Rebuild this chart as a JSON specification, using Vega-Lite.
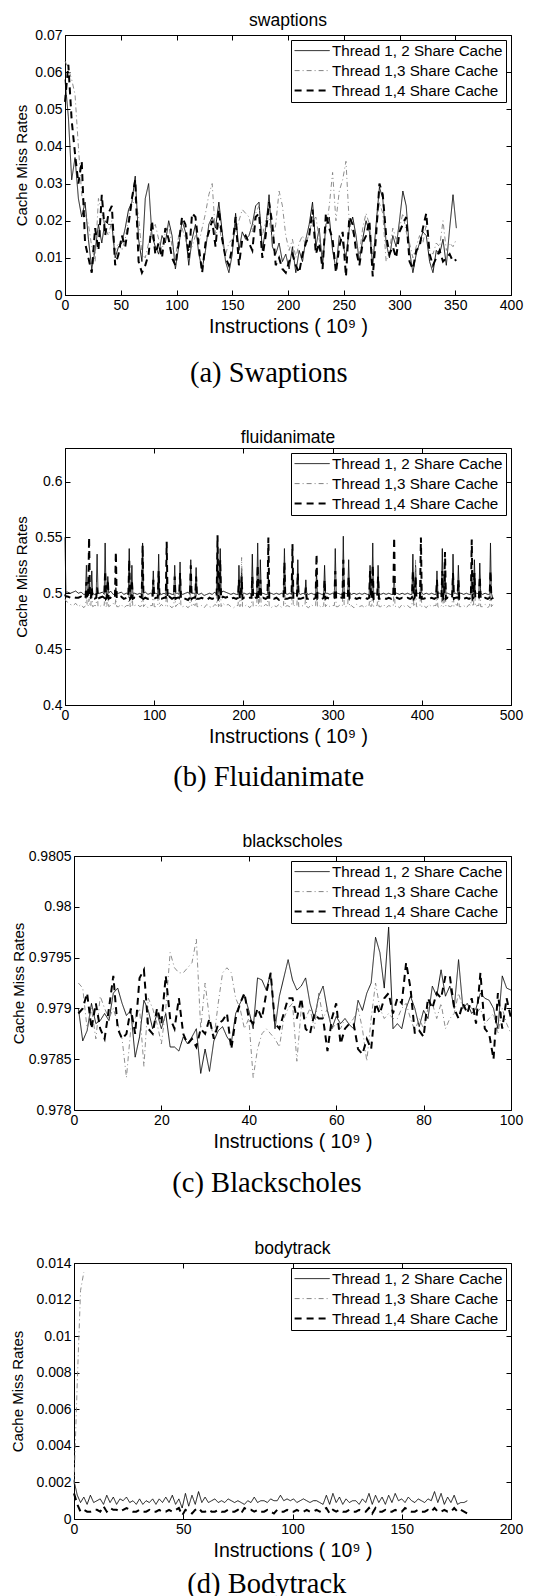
{
"$schema":"https://vega.github.io/schema/vega-lite/v6.json",
"background":"white",
"padding":{"left":10,"top":11,"right":0,"bottom":2},
"spacing":41,
"columns":1,
"resolve":{"scale":{"color":"independent","strokeDash":"independent"}},
"config":{
 "font":"Liberation Sans",
 "view":{"stroke":"black","strokeWidth":1},
 "axis":{"grid":false,"domainColor":"black","tickColor":"black","tickSize":-5,"labelPadding":8,"labelFontSize":14,"labelColor":"black","labelFlush":false,"labelOverlap":false,"titleFontWeight":"normal","titleColor":"black","titleFont":"Liberation Sans","labelFont":"Liberation Sans"},
 "axisX":{"titleFontSize":19.5,"titlePadding":5.5},
 "axisY":{"titleFontSize":15,"titlePadding":5},
 "title":{"fontSize":17.5,"fontWeight":"normal","color":"black","offset":-1,"font":"Liberation Sans","frame":"group","anchor":"middle"},
 "legend":{"title":null,"orient":"top-right","offset":5,"padding":3,"strokeColor":"black","fillColor":"white","cornerRadius":0,"labelFont":"Liberation Sans","labelFontSize":15.2,"labelColor":"black","labelLimit":0,"rowPadding":4}
},
"datasets":{
"sw":[
{"x":0,"a":0.058,"b":0.063,"c":0.052},{"x":3,"a":0.048,"b":0.061,"c":0.062},{"x":6,"a":0.031,"b":0.058,"c":0.047},{"x":9,"a":0.037,"b":0.054,"c":0.038},{"x":12,"a":0.026,"b":0.040,"c":0.030},{"x":15,"a":0.021,"b":0.027,"c":0.036},{"x":18,"a":0.025,"b":0.022,"c":0.014},{"x":21,"a":0.015,"b":0.019,"c":0.010},{"x":24,"a":0.007,"b":0.013,"c":0.006},{"x":27,"a":0.012,"b":0.009,"c":0.018},
{"x":30,"a":0.019,"b":0.026,"c":0.012},{"x":33,"a":0.014,"b":0.022,"c":0.027},{"x":36,"a":0.020,"b":0.018,"c":0.016},{"x":39,"a":0.019,"b":0.016,"c":0.022},{"x":42,"a":0.019,"b":0.020,"c":0.024},{"x":45,"a":0.010,"b":0.012,"c":0.008},{"x":48,"a":0.013,"b":0.014,"c":0.011},{"x":51,"a":0.014,"b":0.012,"c":0.016},{"x":54,"a":0.018,"b":0.015,"c":0.013},{"x":57,"a":0.023,"b":0.021,"c":0.019},
{"x":60,"a":0.025,"b":0.024,"c":0.026},{"x":63,"a":0.032,"b":0.026,"c":0.031},{"x":66,"a":0.015,"b":0.021,"c":0.009},{"x":69,"a":0.009,"b":0.011,"c":0.006},{"x":72,"a":0.026,"b":0.010,"c":0.008},{"x":75,"a":0.030,"b":0.014,"c":0.011},{"x":78,"a":0.016,"b":0.018,"c":0.020},{"x":81,"a":0.013,"b":0.019,"c":0.011},{"x":84,"a":0.011,"b":0.015,"c":0.014},{"x":87,"a":0.016,"b":0.012,"c":0.010},
{"x":90,"a":0.014,"b":0.017,"c":0.018},{"x":93,"a":0.020,"b":0.019,"c":0.015},{"x":96,"a":0.016,"b":0.013,"c":0.010},{"x":99,"a":0.007,"b":0.010,"c":0.008},{"x":102,"a":0.013,"b":0.016,"c":0.014},{"x":105,"a":0.020,"b":0.018,"c":0.021},{"x":108,"a":0.017,"b":0.015,"c":0.019},{"x":111,"a":0.008,"b":0.012,"c":0.010},{"x":114,"a":0.015,"b":0.013,"c":0.022},{"x":117,"a":0.019,"b":0.016,"c":0.021},
{"x":120,"a":0.011,"b":0.014,"c":0.013},{"x":123,"a":0.007,"b":0.018,"c":0.006},{"x":126,"a":0.012,"b":0.022,"c":0.014},{"x":129,"a":0.019,"b":0.027,"c":0.017},{"x":132,"a":0.021,"b":0.030,"c":0.020},{"x":135,"a":0.018,"b":0.016,"c":0.013},{"x":138,"a":0.025,"b":0.019,"c":0.023},{"x":141,"a":0.017,"b":0.014,"c":0.015},{"x":144,"a":0.009,"b":0.011,"c":0.010},{"x":147,"a":0.006,"b":0.014,"c":0.008},
{"x":150,"a":0.011,"b":0.015,"c":0.013},{"x":153,"a":0.022,"b":0.017,"c":0.021},{"x":156,"a":0.012,"b":0.020,"c":0.008},{"x":159,"a":0.017,"b":0.023,"c":0.015},{"x":162,"a":0.015,"b":0.022,"c":0.016},{"x":165,"a":0.016,"b":0.021,"c":0.014},{"x":168,"a":0.019,"b":0.017,"c":0.012},{"x":171,"a":0.024,"b":0.022,"c":0.021},{"x":174,"a":0.025,"b":0.024,"c":0.022},{"x":177,"a":0.012,"b":0.016,"c":0.010},
{"x":180,"a":0.018,"b":0.020,"c":0.016},{"x":183,"a":0.027,"b":0.021,"c":0.025},{"x":186,"a":0.013,"b":0.014,"c":0.019},{"x":189,"a":0.011,"b":0.019,"c":0.008},{"x":192,"a":0.014,"b":0.028,"c":0.010},{"x":195,"a":0.009,"b":0.024,"c":0.007},{"x":198,"a":0.011,"b":0.016,"c":0.006},{"x":201,"a":0.007,"b":0.012,"c":0.009},{"x":204,"a":0.013,"b":0.015,"c":0.011},{"x":207,"a":0.006,"b":0.010,"c":0.008},
{"x":210,"a":0.012,"b":0.014,"c":0.006},{"x":213,"a":0.009,"b":0.016,"c":0.011},{"x":216,"a":0.015,"b":0.013,"c":0.014},{"x":219,"a":0.019,"b":0.017,"c":0.016},{"x":222,"a":0.025,"b":0.020,"c":0.023},{"x":225,"a":0.013,"b":0.021,"c":0.011},{"x":228,"a":0.018,"b":0.015,"c":0.014},{"x":231,"a":0.008,"b":0.011,"c":0.007},{"x":234,"a":0.019,"b":0.017,"c":0.022},{"x":237,"a":0.021,"b":0.024,"c":0.018},
{"x":240,"a":0.012,"b":0.033,"c":0.015},{"x":243,"a":0.007,"b":0.020,"c":0.006},{"x":246,"a":0.016,"b":0.028,"c":0.013},{"x":249,"a":0.014,"b":0.031,"c":0.017},{"x":252,"a":0.010,"b":0.036,"c":0.005},{"x":255,"a":0.018,"b":0.019,"c":0.021},{"x":258,"a":0.021,"b":0.017,"c":0.019},{"x":261,"a":0.016,"b":0.014,"c":0.012},{"x":264,"a":0.009,"b":0.011,"c":0.008},{"x":267,"a":0.015,"b":0.018,"c":0.014},
{"x":270,"a":0.020,"b":0.022,"c":0.016},{"x":273,"a":0.017,"b":0.019,"c":0.020},{"x":276,"a":0.008,"b":0.011,"c":0.005},{"x":279,"a":0.019,"b":0.017,"c":0.016},{"x":282,"a":0.029,"b":0.025,"c":0.030},{"x":285,"a":0.026,"b":0.022,"c":0.027},{"x":288,"a":0.014,"b":0.009,"c":0.016},{"x":291,"a":0.010,"b":0.012,"c":0.011},{"x":294,"a":0.016,"b":0.018,"c":0.013},{"x":297,"a":0.013,"b":0.015,"c":0.010},
{"x":300,"a":0.020,"b":0.018,"c":0.017},{"x":303,"a":0.028,"b":0.022,"c":0.019},{"x":306,"a":0.024,"b":0.017,"c":0.021},{"x":309,"a":0.012,"b":0.014,"c":0.009},{"x":312,"a":0.006,"b":0.010,"c":0.007},{"x":315,"a":0.011,"b":0.013,"c":0.012},{"x":318,"a":0.014,"b":0.016,"c":0.013},{"x":321,"a":0.017,"b":0.014,"c":0.018},{"x":324,"a":0.016,"b":0.019,"c":0.022},{"x":327,"a":0.009,"b":0.012,"c":0.011},
{"x":330,"a":0.006,"b":0.011,"c":0.008},{"x":333,"a":0.012,"b":0.014,"c":0.010},{"x":336,"a":0.011,"b":0.013,"c":0.012},{"x":339,"a":0.015,"b":0.020,"c":0.009},{"x":342,"a":0.008,"b":0.012,"c":0.010},{"x":345,"a":0.018,"b":0.014,"c":0.011},{"x":348,"a":0.027,"b":0.013,"c":0.009},{"x":351,"a":0.018,"b":0.015,"c":0.0095}
],
"fl":[
{"x":0,"a":0.550,"b":0.495,"c":0.499},{"x":3,"a":0.501,"b":0.492,"c":0.497},{"x":6,"a":0.500,"b":0.490,"c":0.496},{"x":9,"a":0.501,"b":0.489,"c":0.497},{"x":12,"a":0.502,"b":0.491,"c":0.496},{"x":15,"a":0.500,"b":0.488,"c":0.496},{"x":18,"a":0.501,"b":0.490,"c":0.497},{"x":21,"a":0.499,"b":0.487,"c":0.495},{"x":24,"a":0.525,"b":0.500,"c":0.510},{"x":27,"a":0.512,"b":0.495,"c":0.550},
{"x":30,"a":0.520,"b":0.505,"c":0.505},{"x":33,"a":0.499,"b":0.489,"c":0.495},{"x":36,"a":0.535,"b":0.510,"c":0.505},{"x":39,"a":0.500,"b":0.488,"c":0.496},{"x":42,"a":0.501,"b":0.490,"c":0.497},{"x":45,"a":0.545,"b":0.515,"c":0.520},{"x":48,"a":0.515,"b":0.505,"c":0.512},{"x":51,"a":0.502,"b":0.489,"c":0.496},{"x":54,"a":0.499,"b":0.491,"c":0.495},{"x":57,"a":0.505,"b":0.495,"c":0.537},
{"x":60,"a":0.500,"b":0.488,"c":0.496},{"x":63,"a":0.501,"b":0.490,"c":0.497},{"x":66,"a":0.499,"b":0.487,"c":0.495},{"x":69,"a":0.500,"b":0.489,"c":0.496},{"x":72,"a":0.540,"b":0.515,"c":0.530},{"x":75,"a":0.525,"b":0.505,"c":0.512},{"x":78,"a":0.500,"b":0.489,"c":0.496},{"x":81,"a":0.499,"b":0.490,"c":0.495},{"x":84,"a":0.500,"b":0.488,"c":0.497},{"x":87,"a":0.545,"b":0.525,"c":0.543},
{"x":90,"a":0.501,"b":0.490,"c":0.496},{"x":93,"a":0.499,"b":0.487,"c":0.495},{"x":96,"a":0.500,"b":0.489,"c":0.496},{"x":99,"a":0.520,"b":0.505,"c":0.512},{"x":102,"a":0.500,"b":0.488,"c":0.496},{"x":105,"a":0.535,"b":0.512,"c":0.520},{"x":108,"a":0.499,"b":0.490,"c":0.495},{"x":111,"a":0.500,"b":0.488,"c":0.496},{"x":114,"a":0.515,"b":0.505,"c":0.546},{"x":117,"a":0.500,"b":0.489,"c":0.497},
{"x":120,"a":0.499,"b":0.487,"c":0.495},{"x":123,"a":0.525,"b":0.508,"c":0.515},{"x":126,"a":0.500,"b":0.490,"c":0.496},{"x":129,"a":0.528,"b":0.510,"c":0.518},{"x":132,"a":0.499,"b":0.488,"c":0.496},{"x":135,"a":0.500,"b":0.489,"c":0.495},{"x":138,"a":0.501,"b":0.487,"c":0.494},{"x":141,"a":0.530,"b":0.512,"c":0.525},{"x":144,"a":0.500,"b":0.490,"c":0.496},{"x":147,"a":0.523,"b":0.505,"c":0.515},
{"x":150,"a":0.499,"b":0.488,"c":0.495},{"x":153,"a":0.500,"b":0.489,"c":0.496},{"x":156,"a":0.498,"b":0.487,"c":0.495},{"x":159,"a":0.499,"b":0.490,"c":0.494},{"x":162,"a":0.500,"b":0.488,"c":0.496},{"x":165,"a":0.499,"b":0.487,"c":0.495},{"x":168,"a":0.501,"b":0.490,"c":0.496},{"x":171,"a":0.545,"b":0.525,"c":0.552},{"x":174,"a":0.540,"b":0.515,"c":0.530},{"x":177,"a":0.502,"b":0.491,"c":0.497},
{"x":180,"a":0.501,"b":0.489,"c":0.496},{"x":183,"a":0.500,"b":0.490,"c":0.497},{"x":186,"a":0.499,"b":0.488,"c":0.495},{"x":189,"a":0.500,"b":0.487,"c":0.496},{"x":192,"a":0.499,"b":0.489,"c":0.495},{"x":195,"a":0.525,"b":0.505,"c":0.512},{"x":198,"a":0.522,"b":0.532,"c":0.515},{"x":201,"a":0.500,"b":0.488,"c":0.496},{"x":204,"a":0.499,"b":0.490,"c":0.495},{"x":207,"a":0.500,"b":0.487,"c":0.496},
{"x":210,"a":0.535,"b":0.510,"c":0.515},{"x":213,"a":0.500,"b":0.489,"c":0.496},{"x":216,"a":0.545,"b":0.520,"c":0.525},{"x":219,"a":0.530,"b":0.510,"c":0.512},{"x":222,"a":0.500,"b":0.488,"c":0.496},{"x":225,"a":0.499,"b":0.490,"c":0.495},{"x":228,"a":0.515,"b":0.505,"c":0.550},{"x":231,"a":0.500,"b":0.487,"c":0.496},{"x":234,"a":0.499,"b":0.489,"c":0.495},{"x":237,"a":0.500,"b":0.488,"c":0.496},
{"x":240,"a":0.499,"b":0.490,"c":0.494},{"x":243,"a":0.500,"b":0.487,"c":0.495},{"x":246,"a":0.540,"b":0.515,"c":0.528},{"x":249,"a":0.499,"b":0.489,"c":0.495},{"x":252,"a":0.500,"b":0.488,"c":0.496},{"x":255,"a":0.520,"b":0.510,"c":0.544},{"x":258,"a":0.500,"b":0.490,"c":0.496},{"x":261,"a":0.530,"b":0.512,"c":0.518},{"x":264,"a":0.499,"b":0.488,"c":0.495},{"x":267,"a":0.500,"b":0.489,"c":0.496},
{"x":270,"a":0.512,"b":0.500,"c":0.505},{"x":273,"a":0.499,"b":0.487,"c":0.495},{"x":276,"a":0.500,"b":0.490,"c":0.496},{"x":279,"a":0.499,"b":0.488,"c":0.495},{"x":282,"a":0.518,"b":0.512,"c":0.535},{"x":285,"a":0.500,"b":0.489,"c":0.496},{"x":288,"a":0.499,"b":0.487,"c":0.495},{"x":291,"a":0.525,"b":0.505,"c":0.512},{"x":294,"a":0.500,"b":0.490,"c":0.496},{"x":297,"a":0.499,"b":0.488,"c":0.495},
{"x":300,"a":0.500,"b":0.489,"c":0.496},{"x":303,"a":0.540,"b":0.515,"c":0.520},{"x":306,"a":0.500,"b":0.488,"c":0.495},{"x":309,"a":0.499,"b":0.490,"c":0.496},{"x":312,"a":0.551,"b":0.520,"c":0.530},{"x":315,"a":0.500,"b":0.488,"c":0.496},{"x":318,"a":0.530,"b":0.510,"c":0.515},{"x":321,"a":0.499,"b":0.489,"c":0.495},{"x":324,"a":0.500,"b":0.487,"c":0.496},{"x":327,"a":0.499,"b":0.490,"c":0.495},
{"x":330,"a":0.500,"b":0.488,"c":0.496},{"x":333,"a":0.499,"b":0.489,"c":0.495},{"x":336,"a":0.500,"b":0.487,"c":0.496},{"x":339,"a":0.499,"b":0.490,"c":0.495},{"x":342,"a":0.525,"b":0.505,"c":0.520},{"x":345,"a":0.545,"b":0.518,"c":0.525},{"x":348,"a":0.500,"b":0.489,"c":0.496},{"x":351,"a":0.525,"b":0.505,"c":0.515},{"x":354,"a":0.499,"b":0.488,"c":0.495},{"x":357,"a":0.500,"b":0.490,"c":0.496},
{"x":360,"a":0.499,"b":0.487,"c":0.495},{"x":363,"a":0.500,"b":0.489,"c":0.496},{"x":366,"a":0.499,"b":0.488,"c":0.495},{"x":369,"a":0.515,"b":0.510,"c":0.550},{"x":372,"a":0.500,"b":0.489,"c":0.496},{"x":375,"a":0.499,"b":0.487,"c":0.495},{"x":378,"a":0.500,"b":0.490,"c":0.496},{"x":381,"a":0.499,"b":0.488,"c":0.495},{"x":384,"a":0.500,"b":0.489,"c":0.496},{"x":387,"a":0.499,"b":0.487,"c":0.495},
{"x":390,"a":0.535,"b":0.515,"c":0.520},{"x":393,"a":0.525,"b":0.530,"c":0.515},{"x":396,"a":0.500,"b":0.488,"c":0.496},{"x":399,"a":0.512,"b":0.505,"c":0.550},{"x":402,"a":0.499,"b":0.489,"c":0.495},{"x":405,"a":0.500,"b":0.487,"c":0.496},{"x":408,"a":0.499,"b":0.490,"c":0.495},{"x":411,"a":0.500,"b":0.488,"c":0.496},{"x":414,"a":0.499,"b":0.489,"c":0.495},{"x":417,"a":0.520,"b":0.505,"c":0.512},
{"x":420,"a":0.500,"b":0.487,"c":0.496},{"x":423,"a":0.540,"b":0.515,"c":0.520},{"x":426,"a":0.520,"b":0.510,"c":0.537},{"x":429,"a":0.500,"b":0.489,"c":0.496},{"x":432,"a":0.499,"b":0.488,"c":0.495},{"x":435,"a":0.535,"b":0.512,"c":0.518},{"x":438,"a":0.500,"b":0.490,"c":0.496},{"x":441,"a":0.525,"b":0.505,"c":0.512},{"x":444,"a":0.500,"b":0.488,"c":0.496},{"x":447,"a":0.499,"b":0.489,"c":0.495},
{"x":450,"a":0.500,"b":0.487,"c":0.496},{"x":453,"a":0.499,"b":0.490,"c":0.495},{"x":456,"a":0.520,"b":0.512,"c":0.548},{"x":459,"a":0.530,"b":0.515,"c":0.518},{"x":462,"a":0.500,"b":0.489,"c":0.496},{"x":465,"a":0.527,"b":0.510,"c":0.515},{"x":468,"a":0.499,"b":0.488,"c":0.495},{"x":471,"a":0.500,"b":0.490,"c":0.496},{"x":474,"a":0.499,"b":0.487,"c":0.495},{"x":477,"a":0.545,"b":0.515,"c":0.520},
{"x":480,"a":0.495,"b":0.490,"c":0.496},
{"x":1,"a":0.501,"b":0.493,"c":0.497},
{"x":23,"a":0.499,"b":0.489,"c":0.496},{"x":25,"a":0.500,"b":0.488,"c":0.495},{"x":26,"a":0.499,"b":0.489,"c":0.496},{"x":28,"a":0.500,"b":0.488,"c":0.495},{"x":29,"a":0.499,"b":0.489,"c":0.496},{"x":31,"a":0.500,"b":0.488,"c":0.495},{"x":35,"a":0.499,"b":0.489,"c":0.496},{"x":37,"a":0.500,"b":0.488,"c":0.495},{"x":44,"a":0.499,"b":0.489,"c":0.496},{"x":46,"a":0.500,"b":0.488,"c":0.495},
{"x":47,"a":0.499,"b":0.489,"c":0.496},{"x":49,"a":0.500,"b":0.488,"c":0.495},{"x":56,"a":0.499,"b":0.489,"c":0.496},{"x":58,"a":0.500,"b":0.488,"c":0.495},{"x":71,"a":0.499,"b":0.489,"c":0.496},{"x":73,"a":0.500,"b":0.488,"c":0.495},{"x":74,"a":0.499,"b":0.489,"c":0.496},{"x":76,"a":0.500,"b":0.488,"c":0.495},{"x":86,"a":0.499,"b":0.489,"c":0.496},{"x":88,"a":0.500,"b":0.488,"c":0.495},
{"x":98,"a":0.499,"b":0.489,"c":0.496},{"x":100,"a":0.500,"b":0.488,"c":0.495},{"x":104,"a":0.499,"b":0.489,"c":0.496},{"x":106,"a":0.500,"b":0.488,"c":0.495},{"x":113,"a":0.499,"b":0.489,"c":0.496},{"x":115,"a":0.500,"b":0.488,"c":0.495},{"x":122,"a":0.499,"b":0.489,"c":0.496},{"x":124,"a":0.500,"b":0.488,"c":0.495},{"x":128,"a":0.499,"b":0.489,"c":0.496},{"x":130,"a":0.500,"b":0.488,"c":0.495},
{"x":140,"a":0.499,"b":0.489,"c":0.496},{"x":142,"a":0.500,"b":0.488,"c":0.495},{"x":146,"a":0.499,"b":0.489,"c":0.496},{"x":148,"a":0.500,"b":0.488,"c":0.495},{"x":170,"a":0.499,"b":0.489,"c":0.496},{"x":172,"a":0.500,"b":0.488,"c":0.495},{"x":173,"a":0.499,"b":0.489,"c":0.496},{"x":175,"a":0.500,"b":0.488,"c":0.495},{"x":194,"a":0.499,"b":0.489,"c":0.496},{"x":196,"a":0.500,"b":0.488,"c":0.495},
{"x":197,"a":0.499,"b":0.489,"c":0.496},{"x":199,"a":0.500,"b":0.488,"c":0.495},{"x":209,"a":0.499,"b":0.489,"c":0.496},{"x":211,"a":0.500,"b":0.488,"c":0.495},{"x":215,"a":0.499,"b":0.489,"c":0.496},{"x":217,"a":0.500,"b":0.488,"c":0.495},{"x":218,"a":0.499,"b":0.489,"c":0.496},{"x":220,"a":0.500,"b":0.488,"c":0.495},{"x":227,"a":0.499,"b":0.489,"c":0.496},{"x":229,"a":0.500,"b":0.488,"c":0.495},
{"x":245,"a":0.499,"b":0.489,"c":0.496},{"x":247,"a":0.500,"b":0.488,"c":0.495},{"x":254,"a":0.499,"b":0.489,"c":0.496},{"x":256,"a":0.500,"b":0.488,"c":0.495},{"x":260,"a":0.499,"b":0.489,"c":0.496},{"x":262,"a":0.500,"b":0.488,"c":0.495},{"x":269,"a":0.499,"b":0.489,"c":0.496},{"x":271,"a":0.500,"b":0.488,"c":0.495},{"x":281,"a":0.499,"b":0.489,"c":0.496},{"x":283,"a":0.500,"b":0.488,"c":0.495},
{"x":290,"a":0.499,"b":0.489,"c":0.496},{"x":292,"a":0.500,"b":0.488,"c":0.495},{"x":302,"a":0.499,"b":0.489,"c":0.496},{"x":304,"a":0.500,"b":0.488,"c":0.495},{"x":311,"a":0.499,"b":0.489,"c":0.496},{"x":313,"a":0.500,"b":0.488,"c":0.495},{"x":317,"a":0.499,"b":0.489,"c":0.496},{"x":319,"a":0.500,"b":0.488,"c":0.495},{"x":341,"a":0.499,"b":0.489,"c":0.496},{"x":343,"a":0.500,"b":0.488,"c":0.495},
{"x":344,"a":0.499,"b":0.489,"c":0.496},{"x":346,"a":0.500,"b":0.488,"c":0.495},{"x":350,"a":0.499,"b":0.489,"c":0.496},{"x":352,"a":0.500,"b":0.488,"c":0.495},{"x":368,"a":0.499,"b":0.489,"c":0.496},{"x":370,"a":0.500,"b":0.488,"c":0.495},{"x":389,"a":0.499,"b":0.489,"c":0.496},{"x":391,"a":0.500,"b":0.488,"c":0.495},{"x":392,"a":0.499,"b":0.489,"c":0.496},{"x":394,"a":0.500,"b":0.488,"c":0.495},
{"x":398,"a":0.499,"b":0.489,"c":0.496},{"x":400,"a":0.500,"b":0.488,"c":0.495},{"x":416,"a":0.499,"b":0.489,"c":0.496},{"x":418,"a":0.500,"b":0.488,"c":0.495},{"x":422,"a":0.499,"b":0.489,"c":0.496},{"x":424,"a":0.500,"b":0.488,"c":0.495},{"x":425,"a":0.499,"b":0.489,"c":0.496},{"x":427,"a":0.500,"b":0.488,"c":0.495},{"x":434,"a":0.499,"b":0.489,"c":0.496},{"x":436,"a":0.500,"b":0.488,"c":0.495},
{"x":440,"a":0.499,"b":0.489,"c":0.496},{"x":442,"a":0.500,"b":0.488,"c":0.495},{"x":455,"a":0.499,"b":0.489,"c":0.496},{"x":457,"a":0.500,"b":0.488,"c":0.495},{"x":458,"a":0.499,"b":0.489,"c":0.496},{"x":460,"a":0.500,"b":0.488,"c":0.495},{"x":464,"a":0.499,"b":0.489,"c":0.496},{"x":466,"a":0.500,"b":0.488,"c":0.495},{"x":476,"a":0.499,"b":0.489,"c":0.496},{"x":478,"a":0.500,"b":0.488,"c":0.495}
],
"bs":[
{"x":1,"a":0.979,"b":0.97925,"c":0.97895},{"x":2,"a":0.97868,"b":0.9792,"c":0.979},{"x":3,"a":0.97878,"b":0.9788,"c":0.97915},{"x":4,"a":0.97905,"b":0.979,"c":0.9788},{"x":5,"a":0.97885,"b":0.9787,"c":0.97905},{"x":6,"a":0.97888,"b":0.97912,"c":0.9788},{"x":7,"a":0.97895,"b":0.979,"c":0.9787},{"x":8,"a":0.97888,"b":0.9789,"c":0.979},{"x":9,"a":0.97915,"b":0.979,"c":0.97932},{"x":10,"a":0.9792,"b":0.97885,"c":0.9788},
{"x":11,"a":0.97905,"b":0.9787,"c":0.9787},{"x":12,"a":0.97893,"b":0.97832,"c":0.97875},{"x":13,"a":0.97898,"b":0.9788,"c":0.979},{"x":14,"a":0.97852,"b":0.9789,"c":0.97875},{"x":15,"a":0.97872,"b":0.979,"c":0.9793},{"x":16,"a":0.97908,"b":0.97843,"c":0.97938},{"x":17,"a":0.97898,"b":0.9791,"c":0.9788},{"x":18,"a":0.9788,"b":0.979,"c":0.97875},{"x":19,"a":0.97895,"b":0.97885,"c":0.979},{"x":20,"a":0.9788,"b":0.97865,"c":0.97885},
{"x":21,"a":0.97895,"b":0.979,"c":0.97932},{"x":22,"a":0.97862,"b":0.97955,"c":0.9789},{"x":23,"a":0.97862,"b":0.9794,"c":0.9788},{"x":24,"a":0.97858,"b":0.97935,"c":0.9791},{"x":25,"a":0.97872,"b":0.97935,"c":0.97875},{"x":26,"a":0.97865,"b":0.9794,"c":0.97865},{"x":27,"a":0.97872,"b":0.97945,"c":0.9787},{"x":28,"a":0.9788,"b":0.97968,"c":0.97862},{"x":29,"a":0.97836,"b":0.9788,"c":0.9788},{"x":30,"a":0.9786,"b":0.97925,"c":0.97875},
{"x":31,"a":0.97838,"b":0.9789,"c":0.9789},{"x":32,"a":0.97868,"b":0.9787,"c":0.9787},{"x":33,"a":0.97878,"b":0.97905,"c":0.97885},{"x":34,"a":0.97882,"b":0.97935,"c":0.97888},{"x":35,"a":0.97872,"b":0.9794,"c":0.97895},{"x":36,"a":0.97866,"b":0.97935,"c":0.9786},{"x":37,"a":0.97895,"b":0.9791,"c":0.9789},{"x":38,"a":0.97905,"b":0.979,"c":0.97905},{"x":39,"a":0.97913,"b":0.9788,"c":0.97915},{"x":40,"a":0.97898,"b":0.9789,"c":0.9789},
{"x":41,"a":0.9788,"b":0.97832,"c":0.97885},{"x":42,"a":0.9793,"b":0.9786,"c":0.979},{"x":43,"a":0.97928,"b":0.97875,"c":0.9789},{"x":44,"a":0.97918,"b":0.9788,"c":0.97915},{"x":45,"a":0.97935,"b":0.97875,"c":0.97935},{"x":46,"a":0.9788,"b":0.9787,"c":0.97885},{"x":47,"a":0.97912,"b":0.97862,"c":0.9788},{"x":48,"a":0.9793,"b":0.9789,"c":0.97895},{"x":49,"a":0.97948,"b":0.979,"c":0.9791},{"x":50,"a":0.97928,"b":0.97905,"c":0.9791},
{"x":51,"a":0.97918,"b":0.97848,"c":0.9789},{"x":52,"a":0.97922,"b":0.979,"c":0.9791},{"x":53,"a":0.9793,"b":0.9789,"c":0.9788},{"x":54,"a":0.97905,"b":0.979,"c":0.97875},{"x":55,"a":0.9789,"b":0.9788,"c":0.97895},{"x":56,"a":0.97912,"b":0.97915,"c":0.9789},{"x":57,"a":0.97922,"b":0.9789,"c":0.9789},{"x":58,"a":0.97898,"b":0.979,"c":0.97858},{"x":59,"a":0.9788,"b":0.9788,"c":0.9789},{"x":60,"a":0.97892,"b":0.97885,"c":0.97905},
{"x":61,"a":0.97885,"b":0.9788,"c":0.97865},{"x":62,"a":0.9789,"b":0.9789,"c":0.9788},{"x":63,"a":0.97884,"b":0.97885,"c":0.97885},{"x":64,"a":0.9788,"b":0.9789,"c":0.97885},{"x":65,"a":0.97908,"b":0.979,"c":0.9786},{"x":66,"a":0.97898,"b":0.9788,"c":0.97855},{"x":67,"a":0.97915,"b":0.97848,"c":0.9787},{"x":68,"a":0.97925,"b":0.9789,"c":0.9786},{"x":69,"a":0.9797,"b":0.97925,"c":0.97905},{"x":70,"a":0.97955,"b":0.979,"c":0.97895},
{"x":71,"a":0.9792,"b":0.9789,"c":0.9791},{"x":72,"a":0.9798,"b":0.97895,"c":0.97915},{"x":73,"a":0.9788,"b":0.9789,"c":0.97895},{"x":74,"a":0.97885,"b":0.9789,"c":0.9791},{"x":75,"a":0.9788,"b":0.979,"c":0.97905},{"x":76,"a":0.979,"b":0.97905,"c":0.97945},{"x":77,"a":0.97912,"b":0.9789,"c":0.9792},{"x":78,"a":0.979,"b":0.97878,"c":0.97875},{"x":79,"a":0.97882,"b":0.9789,"c":0.97878},{"x":80,"a":0.97898,"b":0.9788,"c":0.97872},
{"x":81,"a":0.9789,"b":0.979,"c":0.9791},{"x":82,"a":0.97922,"b":0.97905,"c":0.979},{"x":83,"a":0.97912,"b":0.9789,"c":0.97915},{"x":84,"a":0.97938,"b":0.97905,"c":0.9791},{"x":85,"a":0.97912,"b":0.9788,"c":0.97932},{"x":86,"a":0.97922,"b":0.9789,"c":0.97932},{"x":87,"a":0.979,"b":0.97895,"c":0.979},{"x":88,"a":0.97948,"b":0.97915,"c":0.9789},{"x":89,"a":0.979,"b":0.979,"c":0.97905},{"x":90,"a":0.97905,"b":0.97905,"c":0.97895},
{"x":91,"a":0.97895,"b":0.979,"c":0.9791},{"x":92,"a":0.979,"b":0.97895,"c":0.97885},{"x":93,"a":0.97915,"b":0.979,"c":0.97935},{"x":94,"a":0.9791,"b":0.97885,"c":0.9788},{"x":95,"a":0.97908,"b":0.9789,"c":0.97875},{"x":96,"a":0.979,"b":0.97895,"c":0.9785},{"x":97,"a":0.9788,"b":0.97875,"c":0.97915},{"x":98,"a":0.97932,"b":0.979,"c":0.9788},{"x":99,"a":0.9792,"b":0.97885,"c":0.9791},{"x":100,"a":0.97918,"b":0.97875,"c":0.9789}
],
"bt":[
{"x":0,"a":0.0021,"b":0.0019,"c":0.0014},{"x":1.5,"a":0.0013,"b":0.0075,"c":0.0008},{"x":3,"a":0.0009,"b":0.0125,"c":0.0004},{"x":4.5,"a":0.0012,"b":0.0135,"c":0.0005},{"x":6,"a":0.0008,"c":0.0004},{"x":7.5,"a":0.0013,"c":0.0004},{"x":9,"a":0.0009,"c":0.0005},{"x":10.5,"a":0.0010,"c":0.0005},{"x":12,"a":0.0011,"c":0.0004},{"x":13.5,"a":0.0008,"c":0.0007},
{"x":15,"a":0.0013,"c":0.0004},{"x":16.5,"a":0.0009,"c":0.0006},{"x":18,"a":0.0012,"c":0.0005},{"x":19.5,"a":0.0008,"c":0.0005},{"x":21,"a":0.0011,"c":0.0004},{"x":22.5,"a":0.0010,"c":0.0005},{"x":24,"a":0.0012,"c":0.0006},{"x":25.5,"a":0.0009,"c":0.0005},{"x":27,"a":0.0010,"c":0.0004},{"x":28.5,"a":0.0008,"c":0.0004},
{"x":30,"a":0.0011,"c":0.0005},{"x":31.5,"a":0.0008,"c":0.0004},{"x":33,"a":0.0010,"c":0.0004},{"x":34.5,"a":0.0009,"c":0.0005},{"x":36,"a":0.0011,"c":0.0004},{"x":37.5,"a":0.0008,"c":0.0004},{"x":39,"a":0.0011,"c":0.0005},{"x":40.5,"a":0.0009,"c":0.0004},{"x":42,"a":0.0012,"c":0.0004},{"x":43.5,"a":0.0009,"c":0.0005},
{"x":45,"a":0.0013,"c":0.0004},{"x":46.5,"a":0.0008,"c":0.0005},{"x":48,"a":0.0011,"c":0.0006},{"x":49.5,"a":0.0006,"c":0.0002},{"x":51,"a":0.0014,"c":0.0005},{"x":52.5,"a":0.0007,"c":0.0004},{"x":54,"a":0.0013,"c":0.0003},{"x":55.5,"a":0.0008,"c":0.0005},{"x":57,"a":0.0015,"c":0.0006},{"x":58.5,"a":0.0009,"c":0.0004},
{"x":60,"a":0.0012,"c":0.0004},{"x":61.5,"a":0.0009,"c":0.0005},{"x":63,"a":0.0010,"c":0.0004},{"x":64.5,"a":0.0011,"c":0.0004},{"x":66,"a":0.0009,"c":0.0005},{"x":67.5,"a":0.0010,"c":0.0004},{"x":69,"a":0.0009,"c":0.0004},{"x":70.5,"a":0.0011,"c":0.0005},{"x":72,"a":0.0010,"c":0.0004},{"x":73.5,"a":0.0009,"c":0.0004},
{"x":75,"a":0.0010,"c":0.0005},{"x":76.5,"a":0.0009,"c":0.0003},{"x":78,"a":0.0008,"c":0.0006},{"x":79.5,"a":0.0010,"c":0.0005},{"x":81,"a":0.0009,"c":0.0005},{"x":82.5,"a":0.0012,"c":0.0004},{"x":84,"a":0.0009,"c":0.0005},{"x":85.5,"a":0.0010,"c":0.0004},{"x":87,"a":0.0010,"c":0.0004},{"x":88.5,"a":0.0009,"c":0.0005},
{"x":90,"a":0.0011,"c":0.0004},{"x":91.5,"a":0.0010,"c":0.0003},{"x":93,"a":0.0010,"c":0.0005},{"x":94.5,"a":0.0013,"c":0.0004},{"x":96,"a":0.0010,"c":0.0004},{"x":97.5,"a":0.0011,"c":0.0005},{"x":99,"a":0.0010,"c":0.0004},{"x":100.5,"a":0.0011,"c":0.0004},{"x":102,"a":0.0009,"c":0.0005},{"x":103.5,"a":0.0010,"c":0.0004},
{"x":105,"a":0.0011,"c":0.0004},{"x":106.5,"a":0.0010,"c":0.0005},{"x":108,"a":0.0009,"c":0.0004},{"x":109.5,"a":0.0010,"c":0.0004},{"x":111,"a":0.0010,"c":0.0005},{"x":112.5,"a":0.0009,"c":0.0004},{"x":114,"a":0.0008,"c":0.0005},{"x":115.5,"a":0.0013,"c":0.0006},{"x":117,"a":0.0008,"c":0.0003},{"x":118.5,"a":0.0014,"c":0.0005},
{"x":120,"a":0.0009,"c":0.0004},{"x":121.5,"a":0.0012,"c":0.0005},{"x":123,"a":0.0008,"c":0.0004},{"x":124.5,"a":0.0011,"c":0.0004},{"x":126,"a":0.0009,"c":0.0005},{"x":127.5,"a":0.0010,"c":0.0004},{"x":129,"a":0.0010,"c":0.0004},{"x":130.5,"a":0.0008,"c":0.0005},{"x":132,"a":0.0011,"c":0.0004},{"x":133.5,"a":0.0009,"c":0.0004},
{"x":135,"a":0.0014,"c":0.0006},{"x":136.5,"a":0.0008,"c":0.0003},{"x":138,"a":0.0013,"c":0.0006},{"x":139.5,"a":0.0009,"c":0.0004},{"x":141,"a":0.0012,"c":0.0004},{"x":142.5,"a":0.0008,"c":0.0005},{"x":144,"a":0.0013,"c":0.0004},{"x":145.5,"a":0.0009,"c":0.0004},{"x":147,"a":0.0014,"c":0.0005},{"x":148.5,"a":0.0010,"c":0.0004},
{"x":150,"a":0.0011,"c":0.0004},{"x":151.5,"a":0.0009,"c":0.0006},{"x":153,"a":0.0012,"c":0.0005},{"x":154.5,"a":0.0010,"c":0.0004},{"x":156,"a":0.0009,"c":0.0004},{"x":157.5,"a":0.0011,"c":0.0005},{"x":159,"a":0.0010,"c":0.0004},{"x":160.5,"a":0.0009,"c":0.0004},{"x":162,"a":0.0011,"c":0.0005},{"x":163.5,"a":0.0010,"c":0.0004},
{"x":165,"a":0.0015,"c":0.0006},{"x":166.5,"a":0.0009,"c":0.0004},{"x":168,"a":0.0014,"c":0.0004},{"x":169.5,"a":0.0008,"c":0.0005},{"x":171,"a":0.0012,"c":0.0004},{"x":172.5,"a":0.0009,"c":0.0004},{"x":174,"a":0.0013,"c":0.0006},{"x":175.5,"a":0.0008,"c":0.0004},{"x":177,"a":0.0009,"c":0.0005},{"x":178.5,"a":0.0009,"c":0.0004},
{"x":180,"a":0.0010,"c":0.0003}
]
},
"concat":[
{"title":{"text":"(a) Swaptions","orient":"bottom","font":"Liberation Serif","fontSize":28.5,"fontWeight":"normal","color":"black","offset":22,"anchor":"middle","frame":"bounds"},
 "resolve":{"scale":{"color":"independent","strokeDash":"independent"}},
 "vconcat":[{
  "title":{"text":"swaptions"},
  "width":446,"height":260,
  "layer":[
   {"data":{"name":"sw"},
    "transform":[{"fold":["a","b","c"],"as":["s","y"]},{"filter":"isValid(datum.y)"}],
    "mark":{"type":"line","strokeCap":"butt"},
    "encoding":{
     "x":{"field":"x","type":"quantitative","scale":{"domain":[0,400],"nice":false},"axis":{"values":[0,50,100,150,200,250,300,350,400],"format":"d","title":"Instructions ( 10⁹ )"}},
     "y":{"field":"y","type":"quantitative","scale":{"domain":[0,0.07],"nice":false,"zero":false},"axis":{"values":[0,0.01,0.02,0.03,0.04,0.05,0.06,0.07],"format":".2~f","title":"Cache Miss Rates"}},
     "color":{"field":"s","type":"nominal","scale":{"domain":["a","b","c"],"range":["#000000","#808080","#000000"]},"legend":{"symbolType":"M-3.5,0H3.5","symbolSize":100,"symbolOffset":10.5,"labelOffset":12.3,"labelExpr":"datum.value=='a'?'Thread 1, 2 Share Cache':datum.value=='b'?'Thread 1,3 Share Cache':'Thread 1,4 Share Cache'","encode":{"symbols":{"update":{"strokeWidth":{"signal":"datum.value=='c'?2:1"}}}}}},
     "strokeDash":{"field":"s","type":"nominal","scale":{"domain":["a","b","c"],"range":[[1,0],[5,3,1,3],[7,5]]}},
     "strokeWidth":{"condition":{"test":"datum.s=='c'","value":2},"value":0.9}
    }},
   {"data":{"values":[]},
    "mark":{"type":"point","opacity":0},
    "encoding":{
     "x":{"field":"x","type":"quantitative","axis":{"orient":"top","values":[0,50,100,150,200,250,300,350,400],"labels":false,"title":null,"domain":false,"minExtent":0,"maxExtent":0}},
     "y":{"field":"y","type":"quantitative","axis":{"orient":"right","values":[0,0.01,0.02,0.03,0.04,0.05,0.06,0.07],"labels":false,"title":null,"domain":false,"minExtent":0,"maxExtent":0}}
    }}
  ],
  "resolve":{"axis":{"x":"independent","y":"independent"}}
 }]
},
{"title":{"text":"(b) Fluidanimate","orient":"bottom","font":"Liberation Serif","fontSize":28.5,"fontWeight":"normal","color":"black","offset":16,"anchor":"middle","frame":"bounds"},
 "resolve":{"scale":{"color":"independent","strokeDash":"independent"}},
 "vconcat":[{
  "title":{"text":"fluidanimate","offset":1},
  "width":446,"height":257,
  "layer":[
   {"data":{"name":"fl"},
    "transform":[{"fold":["a","b","c"],"as":["s","y"]},{"filter":"isValid(datum.y)"}],
    "mark":{"type":"line","strokeCap":"butt"},
    "encoding":{
     "x":{"field":"x","type":"quantitative","scale":{"domain":[0,500],"nice":false},"axis":{"values":[0,100,200,300,400,500],"format":"d","title":"Instructions ( 10⁹ )"}},
     "y":{"field":"y","type":"quantitative","scale":{"domain":[0.4,0.63],"nice":false,"zero":false},"axis":{"values":[0.4,0.45,0.5,0.55,0.6],"format":".2~f","title":"Cache Miss Rates"}},
     "color":{"field":"s","type":"nominal","scale":{"domain":["a","b","c"],"range":["#000000","#808080","#000000"]},"legend":{"symbolType":"M-3.5,0H3.5","symbolSize":100,"symbolOffset":10.5,"labelOffset":12.3,"labelExpr":"datum.value=='a'?'Thread 1, 2 Share Cache':datum.value=='b'?'Thread 1,3 Share Cache':'Thread 1,4 Share Cache'","encode":{"symbols":{"update":{"strokeWidth":{"signal":"datum.value=='c'?2:1"}}}}}},
     "strokeDash":{"field":"s","type":"nominal","scale":{"domain":["a","b","c"],"range":[[1,0],[5,3,1,3],[7,5]]}},
     "strokeWidth":{"condition":{"test":"datum.s=='c'","value":2},"value":0.9}
    }},
   {"data":{"values":[]},
    "mark":{"type":"point","opacity":0},
    "encoding":{
     "x":{"field":"x","type":"quantitative","axis":{"orient":"top","values":[0,100,200,300,400,500],"labels":false,"title":null,"domain":false,"minExtent":0,"maxExtent":0}},
     "y":{"field":"y","type":"quantitative","axis":{"orient":"right","values":[0.4,0.45,0.5,0.55,0.6],"labels":false,"title":null,"domain":false,"minExtent":0,"maxExtent":0}}
    }}
  ],
  "resolve":{"axis":{"x":"independent","y":"independent"}}
 }]
},
{"title":{"text":"(c) Blackscholes","orient":"bottom","font":"Liberation Serif","fontSize":28.5,"fontWeight":"normal","color":"black","offset":18,"anchor":"middle","frame":"bounds"},
 "resolve":{"scale":{"color":"independent","strokeDash":"independent"}},
 "vconcat":[{
  "title":{"text":"blackscholes","dx":4.5},
  "width":446,"height":254,
  "view":{"stroke":null},
  "layer":[
   {"data":{"name":"bs"},
    "transform":[{"fold":["a","b","c"],"as":["s","y"]},{"filter":"isValid(datum.y)"}],
    "mark":{"type":"line","strokeCap":"butt"},
    "encoding":{
     "x":{"field":"x","type":"quantitative","scale":{"domain":[0,100],"nice":false,"range":[9,446]},"axis":{"values":[0,20,40,60,80,100],"format":"d","title":"Instructions ( 10⁹ )"}},
     "y":{"field":"y","type":"quantitative","scale":{"domain":[0.978,0.9805],"nice":false,"zero":false},"axis":{"values":[0.978,0.9785,0.979,0.9795,0.98,0.9805],"format":".4~f","title":"Cache Miss Rates","titlePadding":2,"offset":-9}},
     "color":{"field":"s","type":"nominal","scale":{"domain":["a","b","c"],"range":["#000000","#808080","#000000"]},"legend":{"symbolType":"M-3.5,0H3.5","symbolSize":100,"symbolOffset":10.5,"labelOffset":12.3,"labelExpr":"datum.value=='a'?'Thread 1, 2 Share Cache':datum.value=='b'?'Thread 1,3 Share Cache':'Thread 1,4 Share Cache'","encode":{"symbols":{"update":{"strokeWidth":{"signal":"datum.value=='c'?2:1"}}}}}},
     "strokeDash":{"field":"s","type":"nominal","scale":{"domain":["a","b","c"],"range":[[1,0],[5,3,1,3],[7,5]]}},
     "strokeWidth":{"condition":{"test":"datum.s=='c'","value":2},"value":0.9}
    }},
   {"data":{"values":[]},
    "mark":{"type":"point","opacity":0},
    "encoding":{
     "x":{"field":"x","type":"quantitative","axis":{"orient":"top","values":[0,20,40,60,80,100],"labels":false,"title":null,"domain":true,"minExtent":0,"maxExtent":0}},
     "y":{"field":"y","type":"quantitative","axis":{"orient":"right","values":[0.978,0.9785,0.979,0.9795,0.98,0.9805],"labels":false,"title":null,"domain":true,"minExtent":0,"maxExtent":0}}
    }}
  ],
  "resolve":{"axis":{"x":"independent","y":"independent"}}
 }]
},
{"title":{"text":"(d) Bodytrack","orient":"bottom","font":"Liberation Serif","fontSize":28.5,"fontWeight":"normal","color":"black","offset":10,"anchor":"middle","frame":"bounds"},
 "resolve":{"scale":{"color":"independent","strokeDash":"independent"}},
 "vconcat":[{
  "title":{"text":"bodytrack","dx":4.5},
  "width":446,"height":256,
  "view":{"stroke":null},
  "layer":[
   {"data":{"name":"bt"},
    "transform":[{"fold":["a","b","c"],"as":["s","y"]},{"filter":"isValid(datum.y)"}],
    "mark":{"type":"line","strokeCap":"butt"},
    "encoding":{
     "x":{"field":"x","type":"quantitative","scale":{"domain":[0,200],"nice":false,"range":[9,446]},"axis":{"values":[0,50,100,150,200],"format":"d","title":"Instructions ( 10⁹ )"}},
     "y":{"field":"y","type":"quantitative","scale":{"domain":[0,0.014],"nice":false,"zero":false},"axis":{"values":[0,0.002,0.004,0.006,0.008,0.01,0.012,0.014],"format":".3~f","title":"Cache Miss Rates","titlePadding":10,"offset":-9}},
     "color":{"field":"s","type":"nominal","scale":{"domain":["a","b","c"],"range":["#000000","#808080","#000000"]},"legend":{"symbolType":"M-3.5,0H3.5","symbolSize":100,"symbolOffset":10.5,"labelOffset":12.3,"labelExpr":"datum.value=='a'?'Thread 1, 2 Share Cache':datum.value=='b'?'Thread 1,3 Share Cache':'Thread 1,4 Share Cache'","encode":{"symbols":{"update":{"strokeWidth":{"signal":"datum.value=='c'?2:1"}}}}}},
     "strokeDash":{"field":"s","type":"nominal","scale":{"domain":["a","b","c"],"range":[[1,0],[5,3,1,3],[7,5]]}},
     "strokeWidth":{"condition":{"test":"datum.s=='c'","value":2},"value":0.9}
    }},
   {"data":{"values":[]},
    "mark":{"type":"point","opacity":0},
    "encoding":{
     "x":{"field":"x","type":"quantitative","axis":{"orient":"top","values":[0,50,100,150,200],"labels":false,"title":null,"domain":true,"minExtent":0,"maxExtent":0}},
     "y":{"field":"y","type":"quantitative","axis":{"orient":"right","values":[0,0.002,0.004,0.006,0.008,0.01,0.012,0.014],"labels":false,"title":null,"domain":true,"minExtent":0,"maxExtent":0}}
    }}
  ],
  "resolve":{"axis":{"x":"independent","y":"independent"}}
 }]
}
]
}
